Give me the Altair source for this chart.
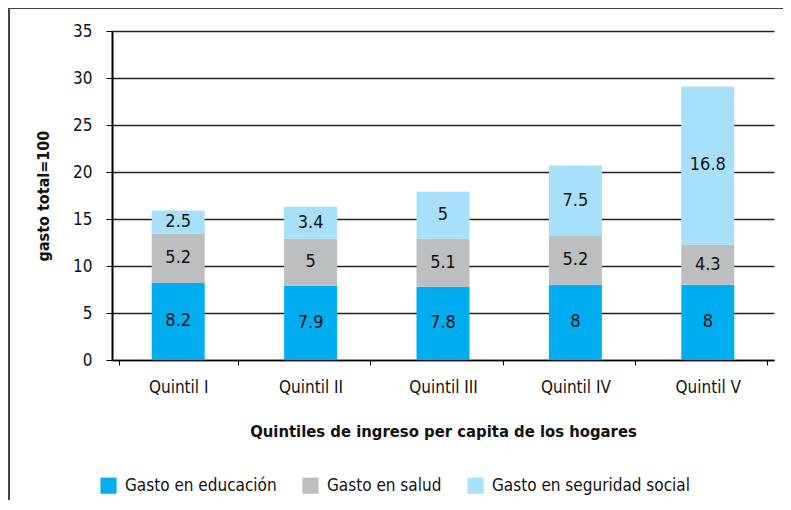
import altair as alt
import pandas as pd

categories = ["Quintil I", "Quintil II", "Quintil III", "Quintil IV", "Quintil V"]
series = ["Gasto en educación", "Gasto en salud", "Gasto en seguridad social"]
educacion = [8.2, 7.9, 7.8, 8, 8]
salud = [5.2, 5, 5.1, 5.2, 4.3]
seguridad = [2.5, 3.4, 5, 7.5, 16.8]
colors = ["#00AEEF", "#BCBEC0", "#A8E0F9"]

rows = []
for i, c in enumerate(categories):
    for k, (s, vals) in enumerate(zip(series, [educacion, salud, seguridad])):
        rows.append({"cat": c, "serie": s, "valor": vals[i], "orden": k})
df = pd.DataFrame(rows)

FONT = "Liberation Sans Narrow, DejaVu Sans Condensed, Arial Narrow, sans-serif"

base = alt.Chart(df).transform_stack(
    stack="valor", groupby=["cat"], as_=["y0", "y1"], sort=[alt.SortField("orden")]
).transform_calculate(ymid="(datum.y0 + datum.y1) / 2")

bars = base.mark_bar(size=53).encode(
    x=alt.X("cat:N", sort=categories, title="Quintiles de ingreso per capita de los hogares",
            axis=alt.Axis(labelAngle=0, domain=True, domainColor="#000", domainWidth=1.5,
                          ticks=True, tickBand="extent", tickColor="#000", tickSize=5,
                          labelPadding=14, titlePadding=28, labelFontSize=17,
                          titleFontSize=16.5, titleFontWeight="bold", grid=False)),
    y=alt.Y("y0:Q", scale=alt.Scale(domain=[0, 35]), title="gasto total=100",
            axis=alt.Axis(values=[0, 5, 10, 15, 20, 25, 30, 35], tickSize=6, tickColor="#000",
                          domainColor="#000", domainWidth=2, grid=True, gridColor="#222",
                          gridWidth=1.3, labelFontSize=17, labelPadding=14,
                          titleFontSize=16, titleFontWeight="bold", titlePadding=21)),
    y2="y1:Q",
    color=alt.Color("serie:N", sort=series, scale=alt.Scale(domain=series, range=colors),
                    legend=alt.Legend(orient="none", legendX=-12, legendY=446, direction="horizontal",
                                      title=None, symbolType="square", symbolSize=260,
                                      symbolStrokeWidth=0, labelFontSize=17, columnPadding=25,
                                      labelOffset=8, labelLimit=0)),
)

labels = base.mark_text(fontSize=18, color="#111", font=FONT).encode(
    x=alt.X("cat:N", sort=categories),
    y=alt.Y("ymid:Q"),
    text=alt.Text("valor:Q"),
)

frame = alt.Chart(alt.Data(values=[{"a": 1}])).mark_rect(
    fill=None, stroke="#444", strokeWidth=2, clip=False
).encode(
    x=alt.value(-103), x2=alt.value(720), y=alt.value(-23), y2=alt.value(500)
)

chart = alt.layer(bars, labels, frame).properties(
    width=662, height=329,
    padding={"left": 104, "top": 23, "right": 9, "bottom": 140},
    autosize=alt.AutoSizeParams(type="none"),
).configure(font=FONT).configure_view(stroke=None).configure_axis(
    labelFont=FONT, titleFont=FONT, labelColor="#111", titleColor="#111"
).configure_legend(labelFont=FONT, labelColor="#111")

chart.save("out.html", embed_options={"renderer": "svg", "actions": False})
